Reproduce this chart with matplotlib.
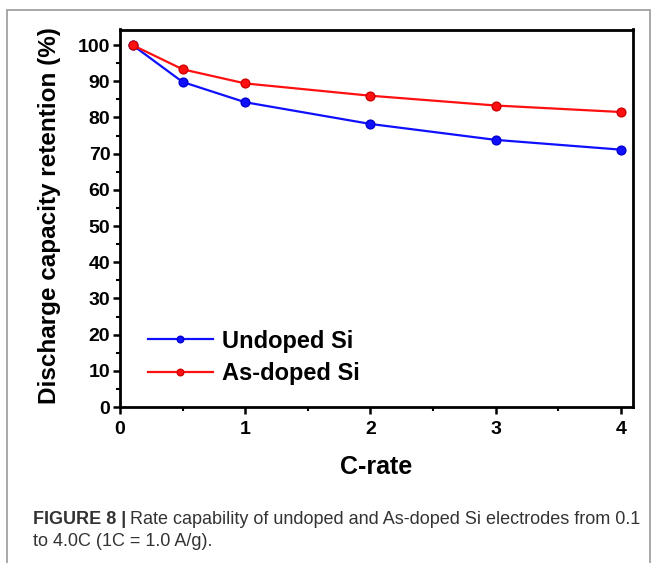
import matplotlib
matplotlib.use("Agg")
import matplotlib.pyplot as plt
from matplotlib.patches import Rectangle

# C-rate values and capacity retention (%)
c_rate = [0.1, 0.5, 1, 2, 3, 4]
undoped = [100, 89.8, 84.2, 78.2, 73.8, 71.1]
as_doped = [100, 93.3, 89.4, 86.0, 83.3, 81.5]
x_ticks = [0, 1, 2, 3, 4]
y_ticks = [0, 10, 20, 30, 40, 50, 60, 70, 80, 90, 100]

FONT = ["Liberation Sans", "DejaVu Sans"]
W, H = 657, 563

fig = plt.figure(figsize=(W / 100, H / 100), dpi=100, facecolor="white")

# outer figure frame
frame = Rectangle((7 / W, -0.05), (650 - 7) / W, 1.05 - 10 / H,
                  transform=fig.transFigure, fill=False,
                  edgecolor="#9a9a9a", linewidth=1.2)
fig.patches.append(frame)

ax = fig.add_axes([120 / W, 1 - 407 / H, (633 - 120) / W, (407 - 29.5) / H])

ax.plot(c_rate, undoped, color="#1010ff", linewidth=1.6, marker="o",
        markersize=6.3, markeredgecolor="#0000d0", label="Undoped Si", zorder=3)
ax.plot(c_rate, as_doped, color="#ff1010", linewidth=1.6, marker="o",
        markersize=6.3, markeredgecolor="#d00000", label="As-doped Si", zorder=3)

ax.set_xlim(0, 4.096)
ax.set_ylim(0, 104.3)
ax.set_xticks(x_ticks)
ax.set_yticks(y_ticks)
ax.set_xticks([0.5, 1.5, 2.5, 3.5], minor=True)
ax.set_yticks([5, 15, 25, 35, 45, 55, 65, 75, 85, 95], minor=True)
ax.tick_params(which="major", direction="out", length=5, width=1.8,
               labelsize=14, pad=2)
ax.tick_params(axis="x", which="major", pad=5)
ax.tick_params(which="minor", direction="out", length=3, width=1.5)
for lab in ax.get_xticklabels() + ax.get_yticklabels():
    lab.set_family(FONT)
    lab.set_fontweight("bold")

for spine in ax.spines.values():
    spine.set_linewidth(2.0)

leg = ax.legend(loc="lower left", bbox_to_anchor=((148 - 120) / 513, 0.058),
                frameon=False, numpoints=1, handlelength=2.75, handletextpad=0.4,
                labelspacing=0.4, borderpad=0, borderaxespad=0, markerscale=0.75,
                prop={"family": FONT, "weight": "bold", "size": 17})

fig.text(50 / W, 1 - 216 / H, "Discharge capacity retention (%)", rotation=90,
         ha="center", va="center", fontsize=17.5, fontweight="bold", family=FONT)
fig.text(376 / W, 1 - 467 / H, "C-rate", ha="center", va="center",
         fontsize=18, fontweight="bold", family=FONT)

# caption
cap_color = "#333333"
bold = fig.text(33 / W, 1 - 519 / H, "FIGURE 8 |", ha="left", va="center",
                fontsize=13, fontweight="bold", color=cap_color, family=FONT)
fig.canvas.draw()
bb = bold.get_window_extent()
fig.text((bb.x1 + 4) / W, 1 - 519 / H,
         "Rate capability of undoped and As-doped Si electrodes from 0.1",
         ha="left", va="center", fontsize=13, color=cap_color, family=FONT)
fig.text(33 / W, 1 - 541 / H, "to 4.0C (1C = 1.0 A/g).", ha="left",
         va="center", fontsize=13, color=cap_color, family=FONT)

fig.savefig("out.png", dpi=100)
